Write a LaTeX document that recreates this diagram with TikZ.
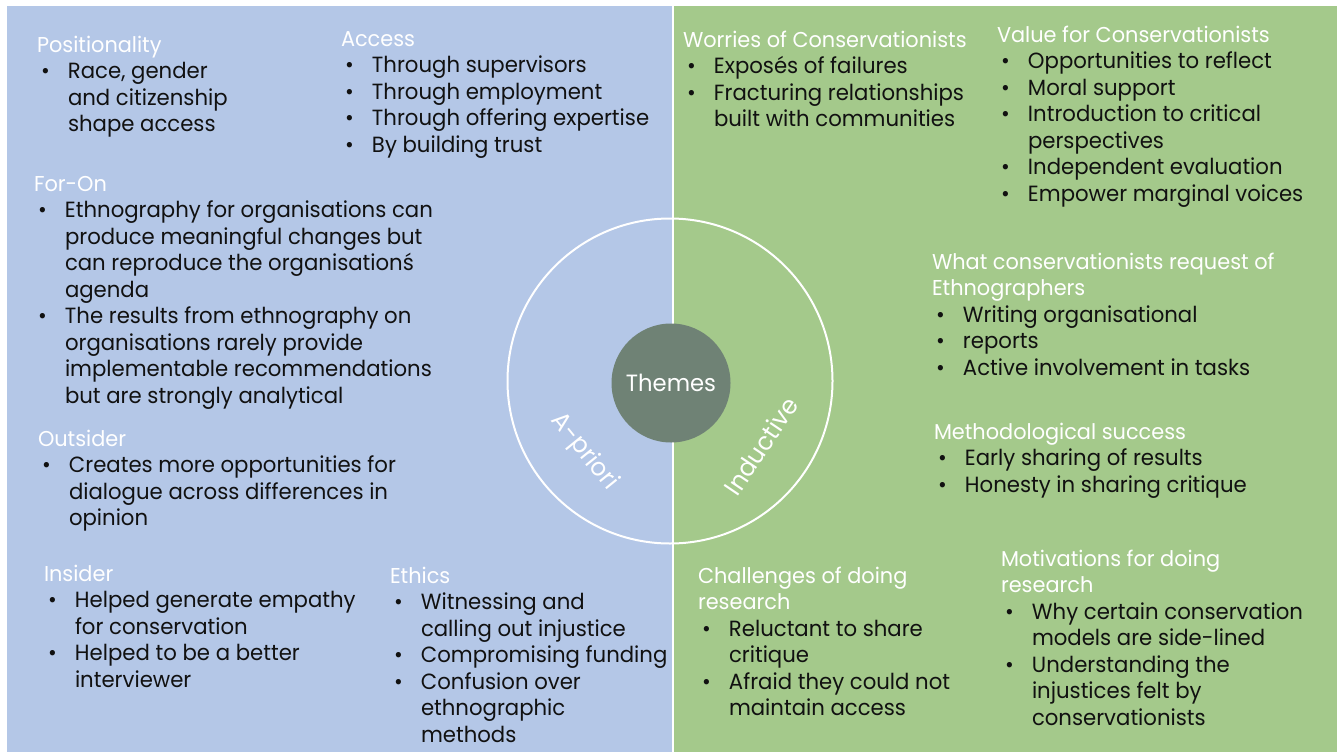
\documentclass[tikz,border=0pt]{standalone}
\usepackage{fontspec}
\setmainfont{Poppins}[FakeStretch=0.965]
\newfontfamily\headfont{Poppins}[FakeStretch=0.97]
\definecolor{bluebg}{HTML}{B4C7E7}
\definecolor{greenbg}{HTML}{A4C98B}
\definecolor{themegrey}{HTML}{6F8275}
\definecolor{bodyink}{HTML}{111111}
% heading line, bullet line and continuation line of a block
\newcommand\hd[1]{{\headfont\fontsize{21.5}{26.5}\selectfont\color{white}#1}}
\newcommand\bitem[1]{\hspace*{4pt}\makebox[27pt][l]{•}#1}
\newcommand\cont[1]{\hspace*{31pt}#1}
\tikzset{
  % #1 = number of lines; the node is placed by the baseline of its first line
  block/.style={anchor=base west, align=left, inner sep=0pt, outer sep=0pt,
    text=bodyink, font=\fontsize{22}{26.5}\selectfont, yshift={-(#1-1)*26.5pt}},
  axislabel/.style={text=white, inner sep=0pt, font=\fontsize{25}{30}\selectfont}
}
\begin{document}
\begin{tikzpicture}[x=1pt,y=-1pt]
\useasboundingbox (0,0) rectangle (1337,752);
\fill[white] (0,0) rectangle (1337,752);
% two halves
\fill[bluebg] (7,6) rectangle (672,752);
\fill[greenbg] (674,6) rectangle (1337,752);

% rings in the middle
\node[circle, draw=white, line width=2pt, minimum size=325pt, inner sep=0pt] (ring) at (670,381) {};
\node[circle, fill=themegrey, minimum size=119pt, inner sep=0pt, text=white,
  font=\fontsize{23.5}{28}\selectfont] (themes) at (671,383) {Themes};
\node[axislabel, rotate=-51] (apriori) at (584,452) {A-priori};
\node[axislabel, rotate=56] (inductive) at (761,446) {Inductive};

% left half: a-priori themes
\node[block=4] (positionality) at (37,52) {\hd{Positionality}\\
  \bitem{Race, gender}\\ \cont{and citizenship}\\ \cont{shape access}};
\node[block=5] (access) at (341,46) {\hd{Access}\\
  \bitem{Through supervisors}\\ \bitem{Through employment}\\
  \bitem{Through offering expertise}\\ \bitem{By building trust}};
\node[block=9] (foron) at (34,191) {\hd{For-On}\\
  \bitem{Ethnography for organisations can}\\ \cont{produce meaningful changes but}\\
  \cont{can reproduce the organisationś}\\ \cont{agenda}\\
  \bitem{The results from ethnography on}\\ \cont{organisations rarely provide}\\
  \cont{implementable recommendations}\\ \cont{but are strongly analytical}};
\node[block=4] (outsider) at (38,446) {\hd{Outsider}\\
  \bitem{Creates more opportunities for}\\ \cont{dialogue across differences in}\\
  \cont{opinion}};
\node[block=5] (insider) at (44,581) {\hd{Insider}\\
  \bitem{Helped generate empathy}\\ \cont{for conservation}\\
  \bitem{Helped to be a better}\\ \cont{interviewer}};
\node[block=7] (ethics) at (390,583) {\hd{Ethics}\\
  \bitem{Witnessing and}\\ \cont{calling out injustice}\\
  \bitem{Compromising funding}\\ \bitem{Confusion over}\\
  \cont{ethnographic}\\ \cont{methods}};

% right half: inductive themes
\node[block=4] (worries) at (683,47) {\hd{Worries of Conservationists}\\
  \bitem{Exposés of failures}\\ \bitem{Fracturing relationships}\\
  \cont{built with  communities}};
\node[block=7] (value) at (997,42) {\hd{Value for Conservationists}\\
  \bitem{Opportunities to reflect}\\ \bitem{Moral support}\\
  \bitem{Introduction to critical}\\ \cont{perspectives}\\
  \bitem{Independent evaluation}\\ \bitem{Empower marginal voices}};
\node[block=5] (request) at (932,269) {\hd{What conservationists request of}\\
  \hd{Ethnographers}\\
  \bitem{Writing organisational}\\ \bitem{reports}\\
  \bitem{Active involvement in tasks}};
\node[block=3] (method) at (934,439) {\hd{Methodological success}\\
  \bitem{Early sharing of results}\\ \bitem{Honesty in sharing critique}};
\node[block=6] (challenges) at (698,583) {\hd{Challenges of doing}\\ \hd{research}\\
  \bitem{Reluctant to share}\\ \cont{critique}\\
  \bitem{Afraid they could not}\\ \cont{maintain access}};
\node[block=7] (motivations) at (1001,566) {\hd{Motivations for doing}\\ \hd{research}\\
  \bitem{Why certain conservation}\\ \cont{models are side-lined}\\
  \bitem{Understanding the}\\ \cont{injustices felt by}\\
  \cont{conservationists}};
\end{tikzpicture}
\end{document}
